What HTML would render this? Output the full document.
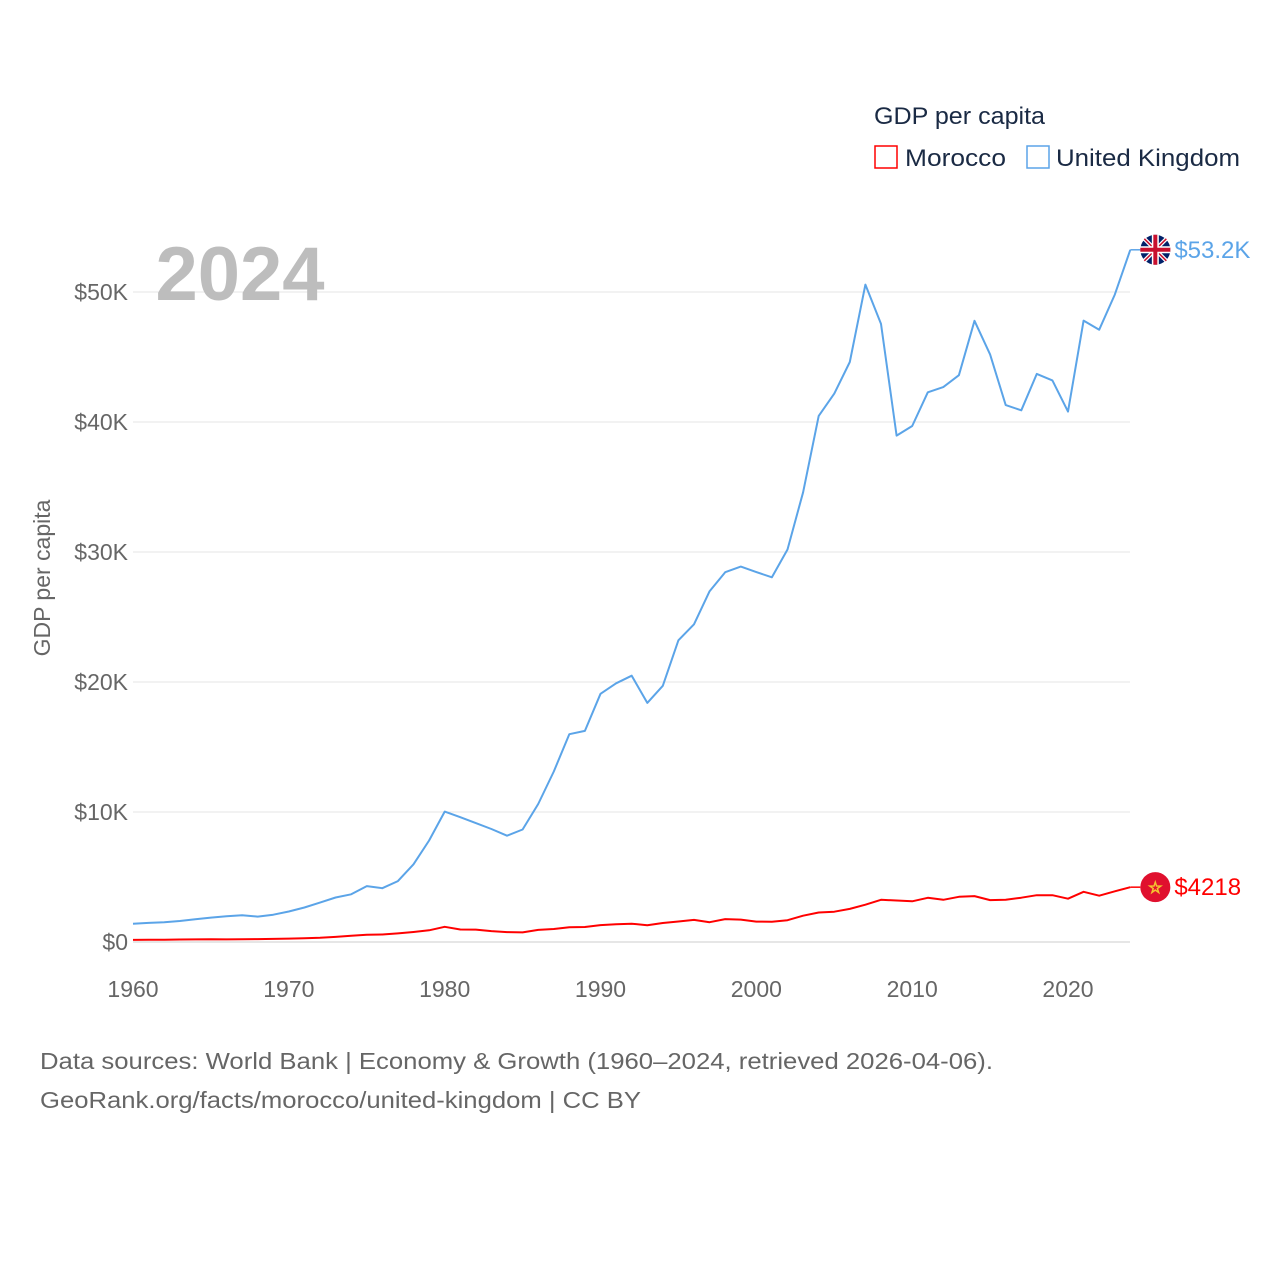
<!DOCTYPE html>
<html><head><meta charset="utf-8"><style>
body{margin:0;background:#fff;font-family:"Liberation Sans",sans-serif}
svg{display:block}
</style></head><body>
<svg width="1280" height="1280" viewBox="0 0 1280 1280">
<g id="grid"></g>
<g id="yt"></g>
<g id="xt"></g>
<text x="240" y="300" text-anchor="middle" font-size="76" font-weight="bold" fill="#bdbdbd">2024</text>
<text transform="translate(50,578) rotate(-90)" text-anchor="middle" font-size="23" fill="#666">GDP per capita</text>
<g id="series"></g>
<g>
<text x="874" y="124" font-size="24" fill="#1a2a44" textLength="171" lengthAdjust="spacingAndGlyphs">GDP per capita</text>
<rect x="875" y="146" width="22" height="22" fill="none" stroke="#ff0000" stroke-width="1.5"/>
<text x="905" y="166" font-size="24" fill="#1a2a44" textLength="101" lengthAdjust="spacingAndGlyphs">Morocco</text>
<rect x="1027" y="146" width="22" height="22" fill="none" stroke="#5ba4e8" stroke-width="1.5"/>
<text x="1056" y="166" font-size="24" fill="#1a2a44" textLength="184" lengthAdjust="spacingAndGlyphs">United Kingdom</text>
</g>
<text x="40" y="1069" font-size="23" fill="#666" textLength="953" lengthAdjust="spacingAndGlyphs">Data sources: World Bank | Economy &amp; Growth (1960–2024, retrieved 2026-04-06).</text>
<text x="40" y="1108" font-size="23" fill="#666" textLength="601" lengthAdjust="spacingAndGlyphs">GeoRank.org/facts/morocco/united-kingdom | CC BY</text>
</svg>
<script>
const years=[];for(let y=1960;y<=2024;y++)years.push(y);
const ukValues=[1398,1472,1526,1613,1748,1874,1980,2058,1952,2101,2348,2650,3031,3426,3666,4300,4139,4682,5977,7805,10032,9599,9146,8692,8180,8652,10612,13118,15987,16240,19095,19901,20487,18389,19709,23208,24438,26988,28448,28877,28457,28057,30190,34592,40473,42186,44616,50567,47549,38952,39693,42285,42687,43600,47787,45200,41300,40900,43700,43200,40800,47800,47100,49800,53246];
const maValues=[164,166,180,194,203,214,203,213,225,238,260,281,323,390,480,560,580,660,770,900,1170,960,950,840,760,740,930,1000,1140,1150,1300,1370,1410,1290,1460,1580,1700,1520,1760,1720,1570,1560,1680,2020,2270,2330,2550,2870,3250,3190,3130,3400,3250,3480,3530,3220,3250,3410,3600,3600,3330,3860,3560,3900,4218];
const yTicks=[0,10000,20000,30000,40000,50000];
const yTickLabels=["$0","$10K","$20K","$30K","$40K","$50K"];
const xTicks=[1960,1970,1980,1990,2000,2010,2020];
const NS="http://www.w3.org/2000/svg";
const X=y=>133+(y-1960)*(935/60);
const Y=v=>942-v*0.013;
function mk(t,a,p){const e=document.createElementNS(NS,t);for(const k in a)e.setAttribute(k,a[k]);p.appendChild(e);return e;}
const grid=document.getElementById('grid'),yt=document.getElementById('yt'),xt=document.getElementById('xt'),ser=document.getElementById('series');
yTicks.forEach((v,i)=>{
 const l=mk('line',{x1:133,x2:1130,y1:Y(v),y2:Y(v),stroke:i?'#e6e6e6':'#ccc','stroke-width':1},grid);
 
 
 const t=mk('text',{x:128,y:Y(v)+8,'text-anchor':'end','font-size':23,fill:'#666'},yt);t.textContent=yTickLabels[i];
 
 
});
xTicks.forEach(v=>{
 const t=mk('text',{x:X(v),y:997,'text-anchor':'middle','font-size':23,fill:'#666'},xt);t.textContent=v;
 
 
});
function line(vals,color,name){
 const d=vals.map((v,i)=>(i?'L':'M')+X(years[i]).toFixed(1)+','+Y(v).toFixed(1)).join('');
 const p=mk('path',{d:d,fill:'none',stroke:color,'stroke-width':2,'stroke-linejoin':'round'},ser);
 
 
}
line(ukValues,'#5ba4e8','uk-line');
line(maValues,'#ff0000','morocco-line');
const n=years.length-1,ex=X(years[n]);
const uy=Y(ukValues[n]),my=Y(maValues[n]);
mk('line',{x1:ex,x2:ex+10,y1:uy,y2:uy,stroke:'#5ba4e8','stroke-width':1.5},ser);
mk('line',{x1:ex,x2:ex+10,y1:my,y2:my,stroke:'#ff0000','stroke-width':1.5},ser);
const uf=mk('g',{},ser);


const fx=ex+25;
mk('circle',{cx:fx,cy:uy,r:15,fill:'#012169'},uf);
mk('path',{d:`M${fx-11},${uy-11}L${fx+11},${uy+11}M${fx+11},${uy-11}L${fx-11},${uy+11}`,stroke:'#fff','stroke-width':4},uf);
mk('path',{d:`M${fx-11},${uy-11}L${fx+11},${uy+11}M${fx+11},${uy-11}L${fx-11},${uy+11}`,stroke:'#c8102e','stroke-width':1.5},uf);
mk('path',{d:`M${fx-15},${uy}H${fx+15}M${fx},${uy-15}V${uy+15}`,stroke:'#fff','stroke-width':7},uf);
mk('path',{d:`M${fx-15},${uy}H${fx+15}M${fx},${uy-15}V${uy+15}`,stroke:'#c8102e','stroke-width':4},uf);
const mf=mk('g',{},ser);


mk('circle',{cx:fx,cy:my,r:15,fill:'#e0102e'},mf);
const st=mk('text',{x:fx,y:my+6,'text-anchor':'middle','font-size':16,fill:'none',stroke:'#f4c430','stroke-width':1},mf);st.textContent='☆';
const ul=mk('text',{x:ex+44,y:uy+8,'font-size':24,fill:'#5ba4e8'},ser);ul.textContent='$'+(ukValues[n]/1000).toFixed(1)+'K';


const ml=mk('text',{x:ex+44,y:my+8,'font-size':24,fill:'#ff0000'},ser);ml.textContent='$'+maValues[n];


</script>
</body></html>
